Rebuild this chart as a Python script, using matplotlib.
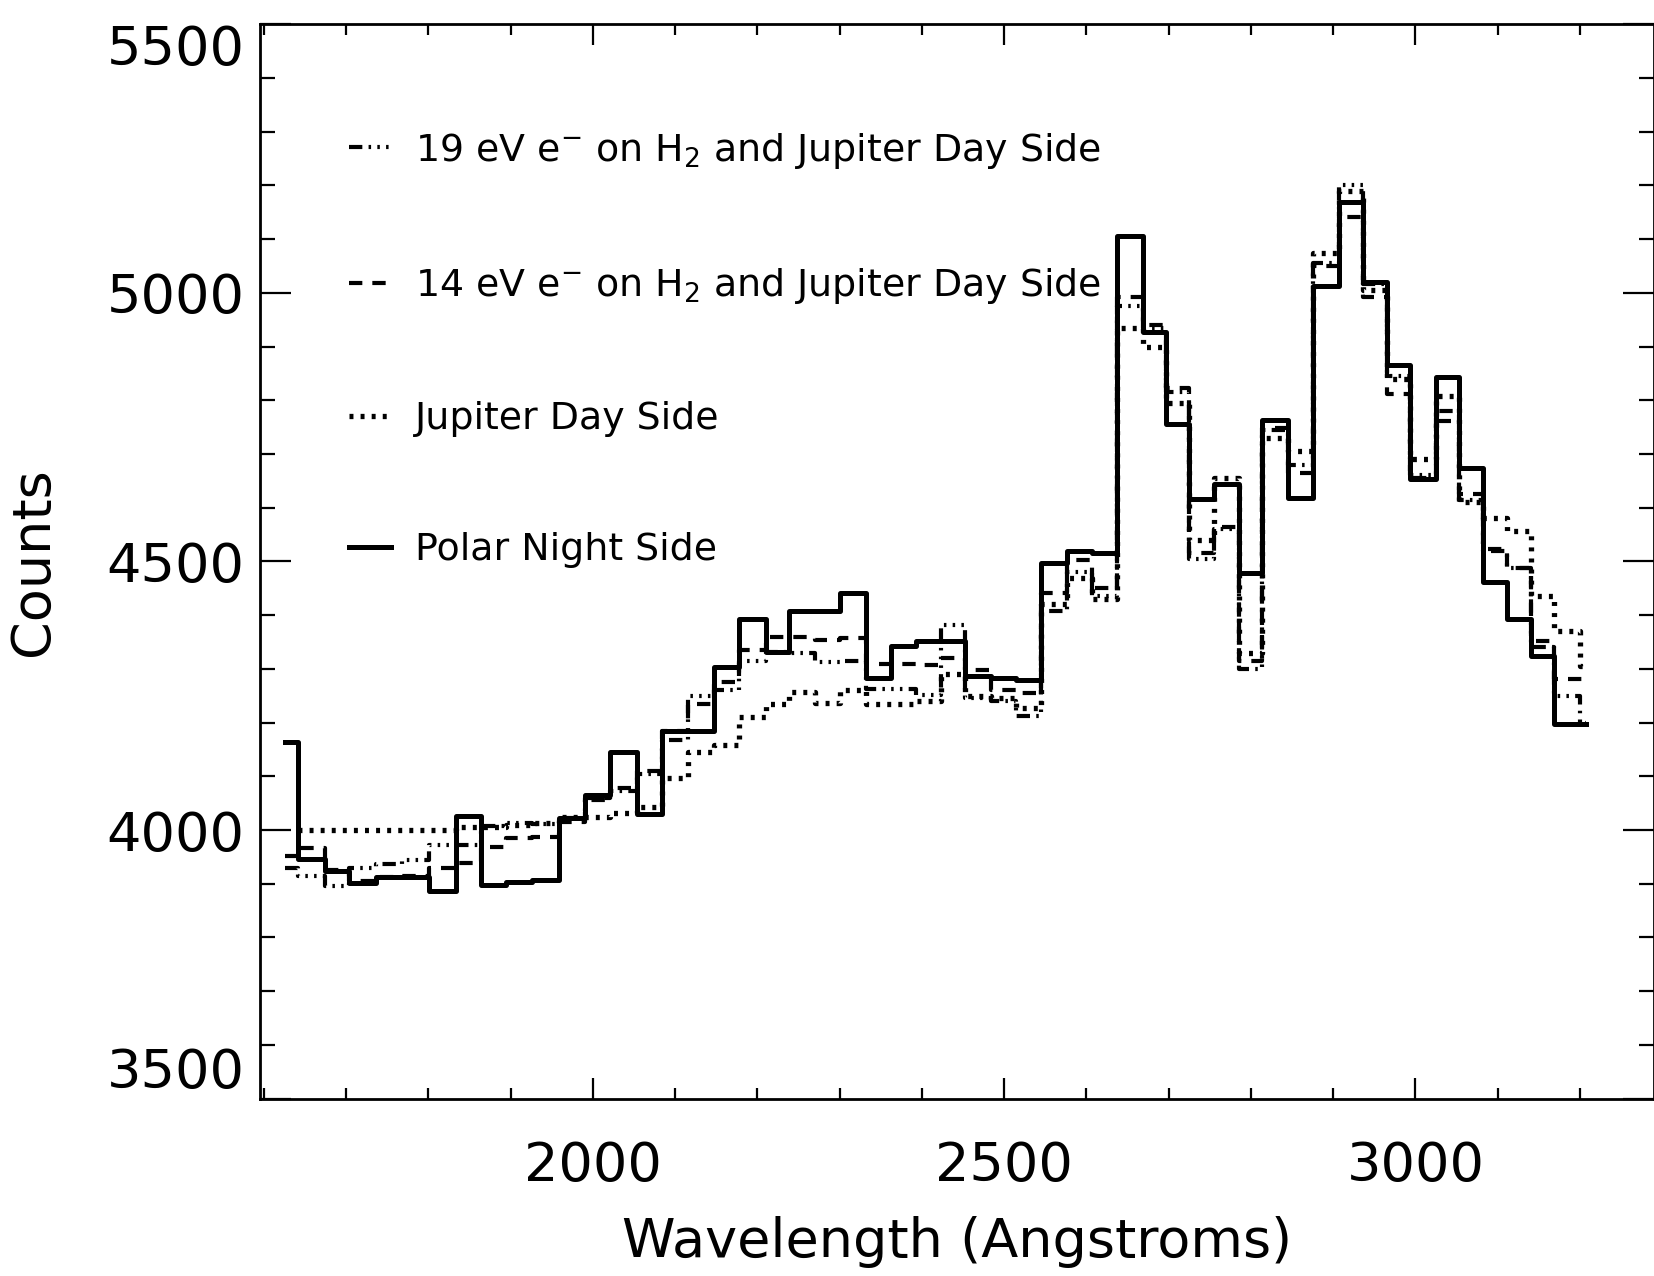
import numpy as np
import matplotlib
matplotlib.use("Agg")
import matplotlib.pyplot as plt
from matplotlib.ticker import MultipleLocator

# bin edges in Angstroms (bins are not quite uniform)
edges = [1626, 1642, 1675, 1704, 1736, 1768, 1801, 1834, 1864, 1894, 1926,
         1959, 1991, 2021, 2054, 2084, 2116, 2147, 2178, 2210, 2239,
         2270, 2301, 2332, 2362, 2393, 2423, 2453, 2484, 2514, 2545,
         2576, 2607, 2637, 2669, 2697, 2725, 2755, 2785, 2814, 2845,
         2875, 2907, 2936, 2965, 2993, 3025, 3053, 3082, 3111, 3141,
         3169, 3200, 3207]

# counts per bin
polar_night = [4163, 3946, 3924, 3902, 3913, 3913, 3886, 4026, 3898, 3903,
               3907, 4023, 4065, 4146, 4029, 4184, 4184, 4303, 4392, 4332,
               4408, 4408, 4442, 4283, 4342, 4352, 4352, 4286, 4283, 4280,
               4497, 4519, 4516, 5106, 4928, 4755, 4617, 4644, 4478, 4764,
               4618, 5012, 5170, 5020, 4866, 4654, 4844, 4674, 4461, 4393,
               4324, 4197, 4197]
# dotted curve starts one bin later
jupiter_day = [np.nan, 4000, 4000, 4000, 4000, 4000, 4000, 4005, 4005, 4010,
               4014, 4025, 4025, 4032, 4043, 4097, 4145, 4158, 4210, 4235,
               4257, 4237, 4260, 4234, 4234, 4240, 4290, 4250, 4245, 4228,
               4420, 4470, 4430, 4934, 4900, 4795, 4540, 4656, 4330, 4730,
               4705, 5075, 5190, 5005, 4840, 4690, 4808, 4610, 4581, 4556,
               4435, 4371, 4306]
ev14 = [3952, 3967, 3925, 3905, 3913, 3915, 3930, 3938, 3968, 3985,
        3987, 4015, 4060, 4078, 4110, 4184, 4235, 4275, 4335, 4360,
        4360, 4353, 4357, 4309, 4309, 4307, 4320, 4298, 4260, 4255,
        4441, 4503, 4450, 4993, 4941, 4823, 4515, 4565, 4315, 4748,
        4665, 5050, 5142, 4993, 4812, 4655, 4780, 4625, 4524, 4487,
        4352, 4281, 4281]
ev19 = [3929, 3914, 3896, 3929, 3937, 3945, 3973, 3972, 4008, 4013,
        4012, 4022, 4055, 4072, 4105, 4168, 4250, 4260, 4314, 4332,
        4330, 4312, 4314, 4262, 4262, 4252, 4381, 4246, 4240, 4212,
        4407, 4481, 4436, 4975, 4935, 4815, 4505, 4560, 4300, 4745,
        4680, 5055, 5200, 5017, 4845, 4660, 4762, 4615, 4520, 4487,
        4340, 4250, 4200]

labels = [r"19 eV e$^{-}$ on H$_2$ and Jupiter Day Side",
          r"14 eV e$^{-}$ on H$_2$ and Jupiter Day Side",
          "Jupiter Day Side",
          "Polar Night Side"]

fig = plt.figure(figsize=(16.54, 12.76), dpi=100)
ax = fig.add_axes([0.157, 0.139, 0.843, 0.842])

def hist(vals, **kw):
    # psym=10 style histogram
    y = list(vals) + [vals[-1]]
    return ax.step(edges, y, where="post", color="black", **kw)[0]

l19 = hist(ev19, lw=3.0, linestyle=(0, (3.2, 1.5, 0.6, 1.5, 0.6, 1.5, 0.6, 1.5)))
l14 = hist(ev14, lw=3.0, linestyle=(0, (3.2, 2.4)))
ljd = hist(jupiter_day, lw=3.8, linestyle=(0, (0.75, 1.35)))
lpn = hist(polar_night, lw=3.6, linestyle="-")

ax.set_xlim(1595, 3290)
ax.set_ylim(3500, 5500)
ax.set_xticks([2000, 2500, 3000])
ax.set_yticks([3500, 4000, 4500, 5000, 5500])
ax.xaxis.set_minor_locator(MultipleLocator(100))
ax.yaxis.set_minor_locator(MultipleLocator(100))

ax.tick_params(axis="both", which="both", direction="in", top=True, right=True,
               width=1.6, labelsize=39)
ax.tick_params(axis="x", which="major", length=15, pad=30)
ax.tick_params(axis="x", which="minor", length=8)
ax.tick_params(axis="y", which="major", length=22, pad=11)
ax.tick_params(axis="y", which="minor", length=11)
for s in ax.spines.values():
    s.set_linewidth(2.0)

ylabs = ax.get_yticklabels()
ylabs[0].set_va("bottom")
ylabs[-1].set_va("top")

ax.set_xlabel("Wavelength (Angstroms)", fontsize=39, labelpad=17)
ax.set_ylabel("Counts", fontsize=39, labelpad=34)

ax.legend([l19, l14, ljd, lpn], labels, loc="upper left",
          bbox_to_anchor=(0.064, 0.901), frameon=False, fontsize=27.3,
          handlelength=1.1, handletextpad=0.65, labelspacing=2.51,
          borderpad=0, borderaxespad=0)

fig.savefig("out.png", dpi=100)
